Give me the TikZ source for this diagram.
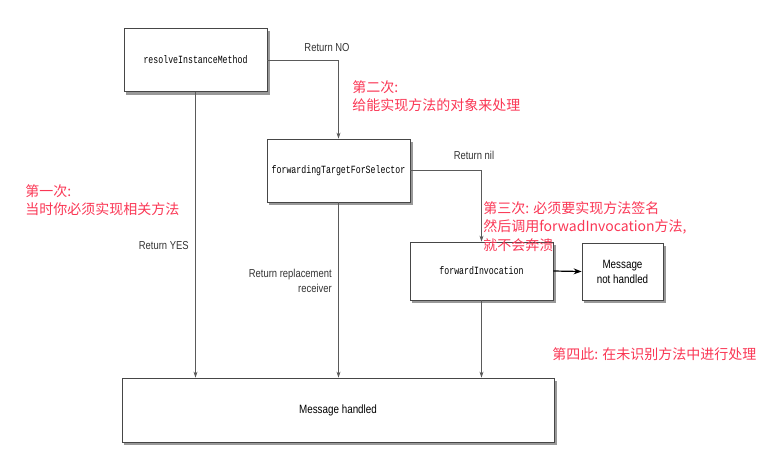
\documentclass[tikz,border=0pt]{standalone}
\usepackage{fontspec}
\usetikzlibrary{arrows.meta}
\usetikzlibrary{backgrounds}
\newfontfamily\cjk{Noto Sans CJK SC}
\newfontfamily\lblfont[FakeStretch=0.82]{Liberation Sans}
\newfontfamily\codefont[FakeStretch=0.75]{Liberation Mono}
\definecolor{notered}{RGB}{250,55,85}
\definecolor{boxline}{RGB}{70,70,70}
\definecolor{wire}{RGB}{90,90,90}

\begin{document}
\begin{tikzpicture}[x=1pt,y=-1pt,
  >={Stealth[length=6pt,width=4pt]},semithick,
  method/.style={draw=boxline,thick,fill=white,rectangle,inner sep=0pt,
    font=\codefont\fontsize{11}{13}\selectfont},
  result/.style={method,font=\lblfont\fontsize{12}{15}\selectfont,align=center},
  lbl/.style={font=\lblfont\fontsize{11.5}{15}\selectfont,text=black!80,inner sep=0pt},
  note/.style={font=\cjk\fontsize{14}{18.5}\selectfont,text=notered,align=left,inner sep=0pt},
  wire/.style={draw=wire,->}]
  \useasboundingbox (0,0) rectangle (766,456);

  % methods tried one after another
  \node[method,minimum width=143pt,minimum height=63pt] (resolve) at (195.5,60) {resolveInstanceMethod};
  \node[method,minimum width=143pt,minimum height=63pt] (target) at (338.5,170.5) {forwardingTargetForSelector};
  \node[method,minimum width=143pt,minimum height=58pt] (invoke) at (481.5,271) {forwardInvocation};
  \node[result,minimum width=81pt,minimum height=57pt] (nothandled) at (622.5,271.5) {Message\\not handled};
  \node[result,minimum width=432pt,minimum height=64pt] (handled) at (338,410) {Message handled};

  % shadows behind the boxes
  \begin{scope}[on background layer]
    \foreach \n in {resolve,target,invoke,nothandled,handled}
      \fill[black!40] ([xshift=2.5pt,yshift=-3pt]\n.south west) rectangle ([xshift=2.5pt,yshift=-3pt]\n.north east);
  \end{scope}

  % connectors
  \draw[wire] (resolve.east) -| (target.north);
  \draw[wire] (target.east) -| (invoke.north);
  \draw[wire] (resolve.south) -- (resolve.south |- handled.north);
  \draw[wire] (target.south) -- (target.south |- handled.north);
  \draw[wire] (invoke.south) -- (invoke.south |- handled.north);
  \draw[-{Stealth[length=8pt,width=6pt]},black,very thick] (invoke.east) -- (nothandled.west);

  % labels
  \node[lbl] (no) at (327,48) {Return NO};
  \node[lbl] (nil) at (474,155) {Return nil};
  \node[lbl,anchor=east] (yes) at (189,246) {Return YES};
  \node[lbl,anchor=north east,align=right] (replace) at (332,269) {Return replacement\\receiver};

  % notes
  \node[note,anchor=north west] (first) at (25,184) {第一次:\\当时你必须实现相关方法};
  \node[note,anchor=north west] (second) at (352,80) {第二次:\\给能实现方法的对象来处理};
  \node[note,anchor=north west] (third) at (483,201) {第三次: 必须要实现方法签名\\然后调用forwadInvocation方法,\\就不会奔溃};
  \node[note,anchor=west] (fourth) at (552,354) {第四此: 在未识别方法中进行处理};
\end{tikzpicture}
\end{document}
